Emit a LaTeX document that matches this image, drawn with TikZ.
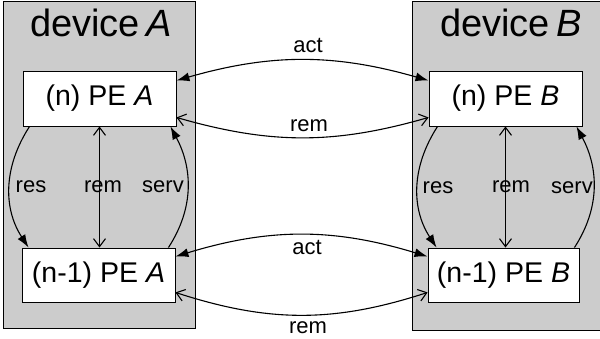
\documentclass[tikz,border=0pt]{standalone}
\usepackage{fontspec}
\setmainfont{Liberation Sans}
\usetikzlibrary{arrows.meta}
\definecolor{devgray}{HTML}{CCCCCC}
\begin{document}
\begin{tikzpicture}[x=1pt,y=1pt,
  device/.style={draw=black, fill=devgray, line width=0.9pt, inner sep=0pt, anchor=north west},
  pe/.style={draw=black, fill=white, line width=0.9pt, minimum height=55pt, inner sep=0pt, font=\fontsize{28.5}{32}\selectfont},
  devtitle/.style={font=\fontsize{38}{42}\selectfont, inner sep=0pt, anchor=base},
  lbl/.style={font=\fontsize{22}{25}\selectfont, inner sep=0pt, anchor=base},
  conn/.style={line width=1.1pt},
  biact/.style={conn, {Latex[length=13pt,width=9pt]}-{Latex[length=13pt,width=9pt]}},
  birem/.style={conn, {Straight Barb[length=8pt,width=12pt]}-{Straight Barb[length=8pt,width=12pt]}},
  oneway/.style={conn, -{Latex[length=13pt,width=9pt]}}
]
\useasboundingbox (0,0) rectangle (600,-339);
% devices
\node[device, minimum width=192pt, minimum height=327pt] (devA) at (3,-1) {};
\node[device, minimum width=190pt, minimum height=329pt] (devB) at (412,-1) {};
\node[devtitle] (tA) at (101,-37) {device\,\textit{A}};
\node[devtitle] (tB) at (511,-37) {device\,\textit{B}};
% protocol entities
\node[pe, minimum width=153pt] (nA) at (99.5,-98.5) {(n) PE \textit{A}};
\node[pe, minimum width=153pt, minimum height=54pt] (n1A) at (98.5,-275) {(n-1) PE \textit{A}};
\node[pe, minimum width=153pt] (nB) at (505.5,-98.5) {(n) PE \textit{B}};
\node[pe, minimum width=151pt, minimum height=54pt] (n1B) at (503.5,-275) {(n-1) PE \textit{B}};
% horizontal connectors
\draw[biact] ([yshift=-10pt]nA.north east) to[out=16,in=164] ([yshift=-10pt]nB.north west);
\draw[birem] ([yshift=9pt]nA.south east) to[out=-16,in=196] ([yshift=9pt]nB.south west);
\draw[biact] ([yshift=-9pt]n1A.north east) to[out=17,in=163] ([yshift=-9pt]n1B.north west);
\draw[birem] ([yshift=10pt]n1A.south east) to[out=-18,in=198] ([yshift=10pt]n1B.south west);
\node[lbl] (lact1) at (308,-53) {act};
\node[lbl] (lrem1) at (309,-132) {rem};
\node[lbl] (lact2) at (307,-255) {act};
\node[lbl] (lrem2) at (308,-334) {rem};
% device A vertical connectors
\draw[oneway] ([xshift=7pt]nA.south west) to[out=237,in=123] ([xshift=7pt]n1A.north west);
\draw[birem] (nA.south) -- (nA.south |- n1A.north);
\draw[oneway] ([xshift=-7pt]n1A.north east) to[out=57,in=-62] ([xshift=-6pt]nA.south east);
\node[lbl] (lresA) at (31,-193) {res};
\node[lbl] (lremA) at (103,-193) {rem};
\node[lbl] (lservA) at (163,-193) {serv};
% device B vertical connectors
\draw[oneway] ([xshift=9pt]nB.south west) to[out=237,in=123] ([xshift=9pt]n1B.north west);
\draw[birem] (nB.south) -- (nB.south |- n1B.north);
\draw[oneway] ([xshift=-5pt]n1B.north east) to[out=57,in=-62] ([xshift=-6pt]nB.south east);
\node[lbl] (lresB) at (438,-194) {res};
\node[lbl] (lremB) at (511,-193) {rem};
\node[lbl] (lservB) at (572,-194) {serv};
\end{tikzpicture}
\end{document}
